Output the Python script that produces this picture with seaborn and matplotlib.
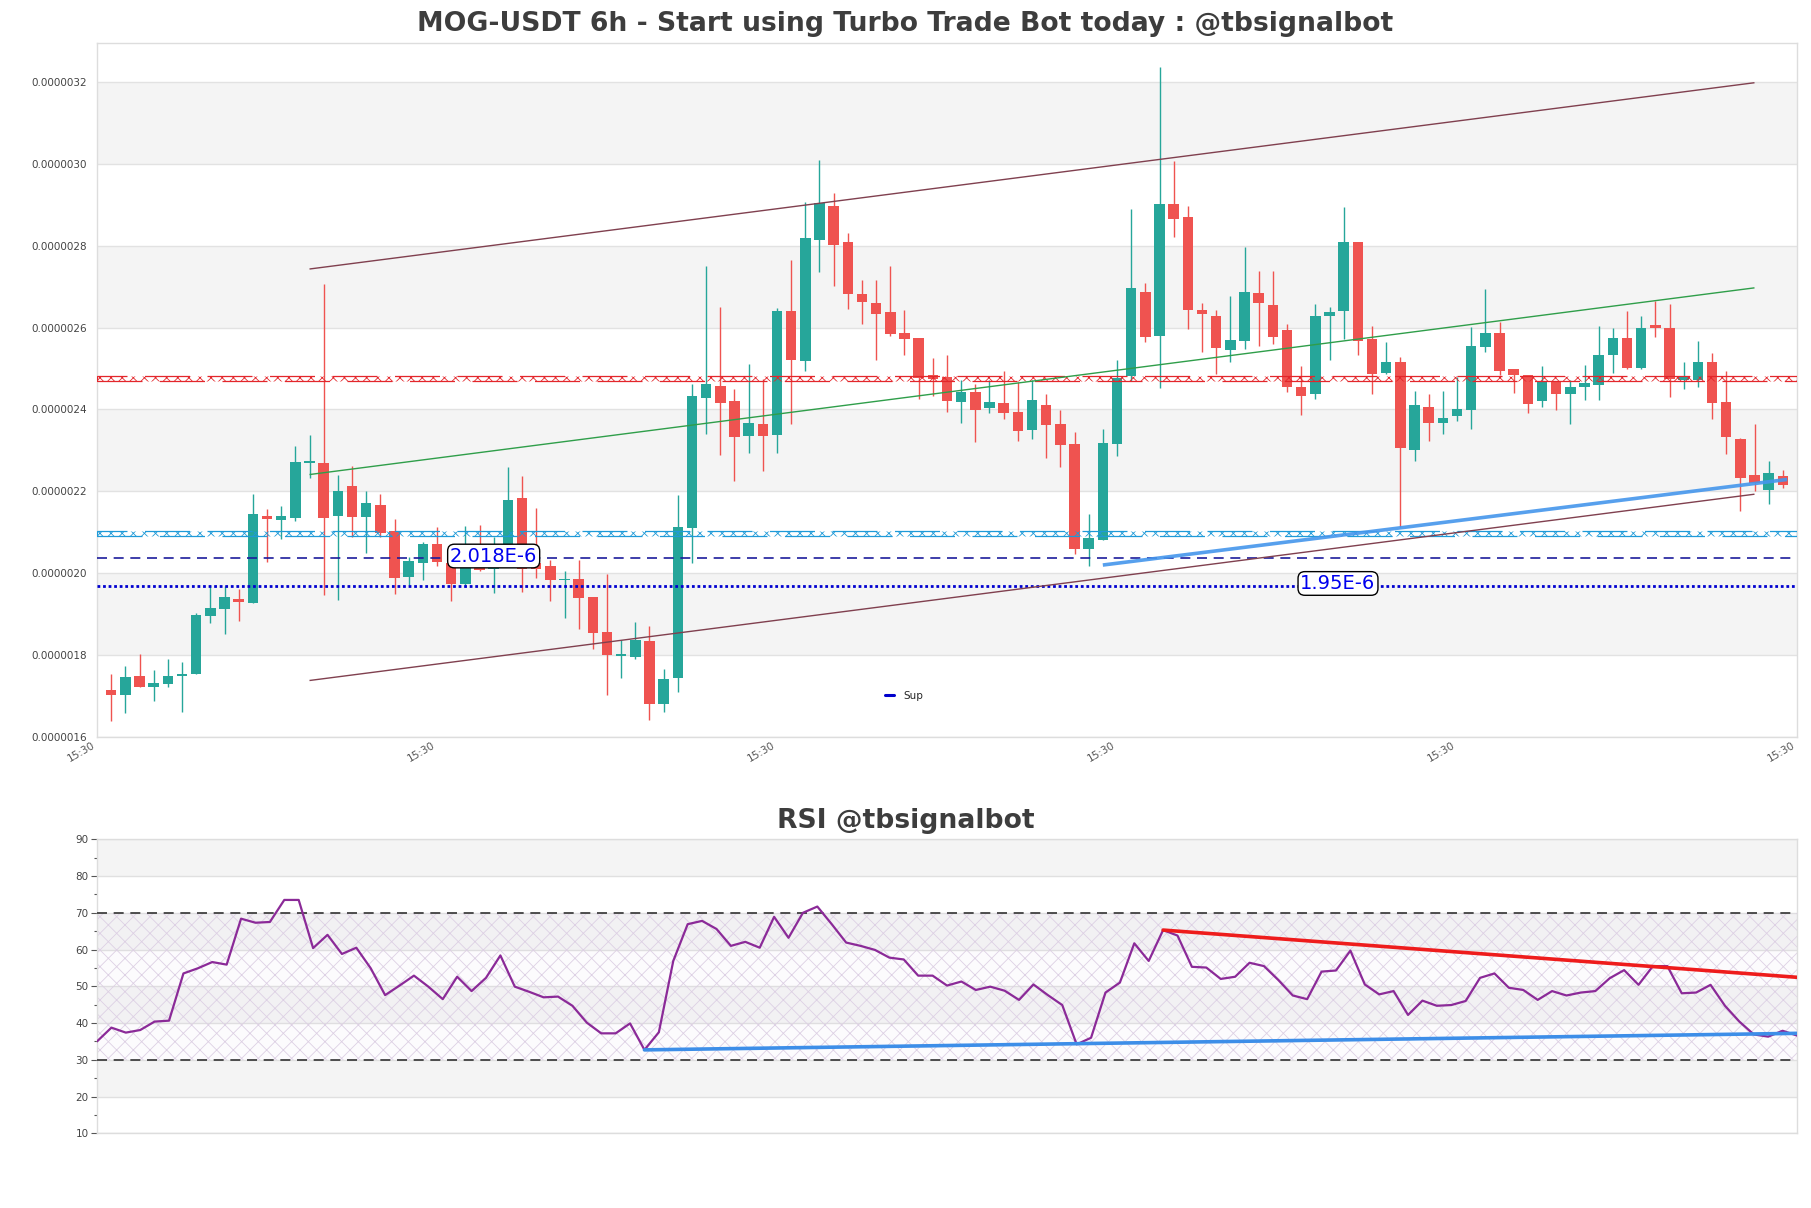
import numpy as np
import pandas as pd
import matplotlib
matplotlib.use("Agg")
import matplotlib.pyplot as plt
import seaborn as sns
from matplotlib.lines import Line2D

# ---------------- data (prices in units of 1e-7 USDT) ----------------
PRICE_UNIT = 1e-7
opens = [17.16, 17.03, 17.50, 17.23, 17.29, 17.50, 17.54, 18.96, 19.12, 19.38,
         19.27, 21.39, 21.30, 21.34, 22.68, 22.68, 21.39, 22.12, 21.37, 21.66,
         21.02, 19.91, 20.25, 20.72, 20.26, 19.74, 20.71, 20.10, 20.68, 21.83,
         20.24, 20.17, 19.83, 19.87, 19.42, 18.57, 17.98, 17.96, 18.35, 16.80,
         17.43, 21.10, 24.28, 24.58, 24.20, 23.36, 23.65, 23.38, 26.41, 25.18,
         28.14, 28.98, 28.10, 26.82, 26.60, 26.37, 25.86, 25.75, 24.85, 24.79,
         24.18, 24.42, 24.03, 24.15, 23.93, 23.49, 24.10, 23.65, 23.16, 20.59,
         20.80, 23.16, 24.81, 26.88, 25.79, 29.02, 28.71, 26.43, 26.29, 25.46,
         25.67, 26.85, 26.56, 25.93, 24.56, 24.38, 26.28, 26.40, 28.10, 25.71,
         24.90, 25.17, 23.02, 24.06, 23.66, 23.84, 23.98, 25.52, 25.86, 24.98,
         24.83, 24.20, 24.67, 24.38, 24.56, 24.60, 25.34, 25.75, 25.02, 26.07,
         25.99, 24.72, 24.71, 25.17, 24.18, 23.29, 22.41, 22.04, 22.37]
highs = [17.54, 17.73, 18.02, 17.63, 17.90, 17.83, 19.04, 19.72, 19.68, 19.62,
         21.93, 21.57, 21.63, 23.10, 23.37, 27.07, 22.41, 22.61, 22.02, 21.94,
         21.32, 20.40, 20.76, 21.13, 20.28, 21.15, 21.17, 20.89, 22.59, 22.37,
         21.60, 20.32, 20.05, 20.32, 19.42, 19.98, 18.37, 18.80, 18.72, 17.65,
         21.90, 24.63, 27.51, 26.50, 24.50, 25.11, 24.75, 26.47, 27.65, 29.07,
         30.10, 29.29, 28.32, 27.15, 27.15, 27.51, 26.43, 25.75, 25.26, 25.32,
         24.71, 24.63, 24.71, 24.95, 24.67, 24.71, 24.38, 23.99, 23.46, 21.44,
         23.53, 25.21, 28.90, 27.09, 32.37, 30.07, 28.98, 26.60, 26.43, 26.78,
         27.96, 27.39, 27.39, 26.09, 25.05, 26.58, 26.50, 28.95, 28.10, 26.05,
         25.64, 25.29, 24.46, 24.38, 24.44, 24.79, 26.01, 26.94, 26.13, 24.99,
         24.85, 25.05, 24.67, 24.71, 25.09, 26.05, 25.98, 26.41, 26.29, 26.66,
         26.58, 25.17, 25.68, 25.37, 24.95, 23.30, 23.65, 22.73, 22.51]
lows = [16.40, 16.59, 17.22, 16.89, 17.21, 16.62, 17.54, 18.79, 18.51, 18.84,
        19.27, 20.27, 20.84, 21.28, 22.32, 19.47, 19.34, 20.88, 20.50, 20.88,
        19.50, 19.71, 19.83, 20.18, 19.32, 19.67, 20.06, 19.52, 20.64, 19.54,
        19.89, 19.32, 18.91, 18.64, 18.14, 17.02, 17.45, 17.90, 16.41, 16.62,
        17.10, 20.26, 23.41, 22.88, 22.26, 22.93, 22.50, 22.94, 23.65, 24.95,
        27.35, 27.01, 26.46, 26.09, 25.20, 25.80, 25.32, 24.26, 24.34, 23.93,
        23.67, 23.20, 23.91, 23.77, 23.24, 23.27, 22.82, 22.59, 20.48, 20.18,
        20.80, 22.86, 24.70, 25.64, 24.53, 28.20, 25.97, 25.40, 24.87, 25.15,
        25.48, 25.56, 25.60, 24.42, 23.87, 24.25, 25.21, 25.72, 25.32, 24.38,
        24.87, 21.13, 22.74, 23.23, 23.41, 23.71, 23.53, 25.40, 24.83, 24.40,
        23.91, 24.05, 23.98, 23.65, 24.22, 24.22, 24.90, 24.99, 24.99, 25.78,
        24.30, 24.50, 24.54, 23.77, 22.92, 21.52, 22.01, 21.70, 22.07]
closes = [17.03, 17.46, 17.23, 17.31, 17.50, 17.55, 18.98, 19.16, 19.41, 19.30,
          21.44, 21.32, 21.39, 22.71, 22.74, 21.35, 22.02, 21.37, 21.71, 20.98,
          19.89, 20.29, 20.71, 20.28, 19.74, 20.72, 20.07, 20.72, 21.80, 20.11,
          20.11, 19.83, 19.87, 19.40, 18.54, 18.00, 18.02, 18.37, 16.80, 17.41,
          21.12, 24.33, 24.61, 24.15, 23.32, 23.66, 23.36, 26.41, 25.20, 28.19,
          29.04, 28.02, 26.82, 26.62, 26.33, 25.85, 25.72, 24.77, 24.75, 24.20,
          24.42, 23.98, 24.18, 23.91, 23.47, 24.22, 23.63, 23.14, 20.59, 20.86,
          23.18, 24.77, 26.96, 25.76, 29.02, 28.65, 26.43, 26.32, 25.50, 25.70,
          26.88, 26.59, 25.76, 24.54, 24.33, 26.29, 26.37, 28.10, 25.67, 24.87,
          25.17, 23.06, 24.12, 23.66, 23.79, 24.00, 25.54, 25.86, 24.93, 24.83,
          24.14, 24.67, 24.37, 24.54, 24.64, 25.34, 25.75, 25.02, 25.99, 25.99,
          24.75, 24.79, 25.15, 24.15, 23.32, 22.32, 22.20, 22.45, 22.16]

rsi_values = [35.0, 38.75, 37.4, 38.1, 40.4, 40.65, 53.5, 54.9, 56.6, 55.9,
              68.4, 67.3, 67.5, 73.5, 73.5, 60.4, 64.0, 58.8, 60.5, 54.9,
              47.6, 50.2, 52.9, 49.9, 46.5, 52.6, 48.7, 52.3, 58.4, 49.9,
              48.5, 47.0, 47.2, 44.7, 40.1, 37.2, 37.2, 39.9, 32.7, 37.5,
              56.9, 66.9, 67.8, 65.6, 61.0, 62.1, 60.5, 68.9, 63.2, 70.0,
              71.7, 66.9, 61.9, 61.0, 59.9, 57.8, 57.3, 52.9, 52.9, 50.2,
              51.3, 49.0, 49.9, 48.8, 46.3, 50.5, 47.6, 44.9, 34.2, 36.0,
              48.3, 51.0, 61.7, 56.9, 65.3, 63.8, 55.3, 55.1, 52.0, 52.6,
              56.4, 55.5, 51.7, 47.5, 46.5, 54.0, 54.3, 59.7, 50.5, 47.8,
              48.7, 42.2, 46.1, 44.7, 44.9, 46.0, 52.3, 53.5, 49.6, 49.0,
              46.3, 48.7, 47.5, 48.3, 48.7, 52.2, 54.4, 50.4, 55.5, 55.5,
              48.1, 48.3, 50.4, 44.7, 40.4, 36.9, 36.3, 37.9, 36.6]

x_tick_labels = ["15:30"] * 6
price_ticks = [16, 18, 20, 22, 24, 26, 28, 30, 32]

# horizontal levels (1e-7 units)
resistance_band = (24.70, 24.82)
support_band = (20.92, 21.03)
dashed_level = 20.36
sup_level = 19.68
dashed_label, dashed_label_pos = "2.018E-6", (27.0, 20.42)
sup_label, sup_label_pos = "1.95E-6", (86.6, 19.75)

# trend lines: (x0, x1), (y0, y1)
channel_upper = ((14, 116), (27.43, 31.98))
channel_lower = ((14, 116), (17.38, 21.93))
channel_mid = ((14, 116), (22.41, 26.97))
price_trend = ((70, 118.3), (20.20, 22.29))
rsi_res_trend = ((74, 118), (65.3, 52.45))
rsi_sup_trend = ((38, 118), (32.7, 37.2))

# ---------------- styling ----------------
sns.set_theme(style="white")
plt.rcParams['font.family'] = ['DejaVu Sans']
plt.rcParams['hatch.linewidth'] = 0.6

W, H = 1811, 1208
fig = plt.figure(figsize=(W / 100, H / 100), dpi=100)
ax = fig.add_axes([97 / W, 1 - 737 / H, 1700 / W, 694 / H])
ax2 = fig.add_axes([97 / W, 1 - 1133.3 / H, 1700 / W, 294 / H])

df = pd.DataFrame({"open": opens, "high": highs, "low": lows, "close": closes}) * PRICE_UNIT
df["idx"] = np.arange(len(df))
GREEN, RED = "#26a69a", "#ef5350"
colors = np.where(df["close"] >= df["open"], GREEN, RED)

# background bands
for lo in (18, 22, 26, 30):
    ax.axhspan(lo * PRICE_UNIT, (lo + 2) * PRICE_UNIT, color="#f4f4f4", zorder=0, lw=0)

# candles
ax.vlines(df["idx"], df["low"], df["high"], colors=colors, lw=1.0, zorder=3)
body_lo = np.minimum(df["open"], df["close"])
body_h = np.abs(df["close"] - df["open"])
ax.bar(df["idx"], body_h, bottom=body_lo, width=0.75, color=colors, zorder=4, lw=0)

# hatched level bands
for (lo, hi), col in ((resistance_band, "#e3262b"), (support_band, "#1e9ad8")):
    ax.axhspan(lo * PRICE_UNIT, hi * PRICE_UNIT, facecolor="none", edgecolor=col,
               hatch="xxx", lw=0.9, ls=(0, (36, 14)), zorder=5)

ax.axhline(dashed_level * PRICE_UNIT, color="#1c1c9c", lw=1.2, ls=(0, (6, 4)), zorder=5)
ax.axhline(sup_level * PRICE_UNIT, color="#0000d0", lw=2.0, ls=(0, (1, 1)), zorder=5)

for (xs, ys), col, lw in ((channel_upper, "#80404f", 1.0), (channel_lower, "#80404f", 1.0),
                          (channel_mid, "#2f9e4a", 1.0), (price_trend, "#4596ec", 2.6)):
    ax.plot(xs, np.array(ys) * PRICE_UNIT, color=col, lw=lw, zorder=6,
            alpha=0.9 if lw > 2 else 1.0, solid_capstyle="butt")

bbox = dict(boxstyle="round,pad=0.12,rounding_size=0.35", fc="white", ec="black", lw=1.0)
for txt, (px, py) in ((dashed_label, dashed_label_pos), (sup_label, sup_label_pos)):
    ax.text(px, py * PRICE_UNIT, txt, color="#0000ee", fontsize=14, ha="center",
            va="center", bbox=bbox, zorder=8)

ax.set_xlim(-1, 119)
ax.set_ylim(16 * PRICE_UNIT, 32.95 * PRICE_UNIT)
ax.set_yticks([t * PRICE_UNIT for t in price_ticks])
ax.set_yticklabels([f"{t * PRICE_UNIT:.7f}" for t in price_ticks], fontsize=7.5, color="#444444")
ax.yaxis.grid(True, color="#e2e2e2", lw=1.0)
ax.set_axisbelow(True)
ax.set_xticks([-1, 23, 47, 71, 95, 119])
ax.set_xticklabels(x_tick_labels, rotation=30, ha="right", fontsize=7.5, color="#555555")
ax.tick_params(axis="y", length=0, pad=7)
ax.tick_params(axis="x", length=0, pad=2)
for sp in ax.spines.values():
    sp.set_color("#dddddd")
    sp.set_linewidth(1.0)

leg = ax.legend(handles=[Line2D([0], [0], color="#0000cc", lw=2.2)], labels=["Sup"],
                loc="center left", bbox_to_anchor=(0.4635, 0.059), frameon=False,
                fontsize=7.5, handlelength=0.9, handletextpad=0.9, borderpad=0,
                borderaxespad=0)

# ---------------- RSI panel ----------------
rsi_df = pd.DataFrame({"t": np.arange(len(rsi_values)), "rsi": rsi_values})
for lo in (20, 40, 60, 80):
    ax2.axhspan(lo, lo + 10, color="#f4f4f4", zorder=0, lw=0)
ax2.fill_between([0, len(rsi_values) - 1], 30, 70, facecolor=(0.85, 0.78, 0.9, 0.06),
                 edgecolor="#ddd0e4", hatch="xx", lw=0, zorder=1)
ax2.axhline(70, color="#333333", lw=1.2, ls=(0, (6, 4)), zorder=3)
ax2.axhline(30, color="#333333", lw=1.2, ls=(0, (6, 4)), zorder=3)
sns.lineplot(data=rsi_df, x="t", y="rsi", ax=ax2, color="#8b2a98", lw=1.6, zorder=5)
ax2.plot(*rsi_res_trend, color="#ee1c1c", lw=2.6, zorder=6)
ax2.plot(*rsi_sup_trend, color="#3d8ee8", lw=2.6, zorder=6)
ax2.set_xlim(0, len(rsi_values) - 1)
ax2.set_ylim(10, 90)
ax2.set_yticks(range(10, 91, 10))
ax2.set_yticks(range(15, 90, 10), minor=True)
ax2.set_yticklabels([str(v) for v in range(10, 91, 10)], fontsize=7.5, color="#444444")
ax2.yaxis.grid(True, color="#e0e0e0", lw=1.0)
ax2.set_axisbelow(True)
ax2.set_xticks([])
ax2.set_xlabel("")
ax2.set_ylabel("")
ax2.tick_params(axis="y", which="major", left=True, length=4, width=0.8, color="#555555", pad=2)
ax2.tick_params(axis="y", which="minor", left=True, length=2.5, width=0.8, color="#555555")
for sp in ax2.spines.values():
    sp.set_color("#dddddd")
    sp.set_linewidth(1.0)

fig.text(0.5, 1 - 24 / H, "MOG-USDT 6h - Start using Turbo Trade Bot today : @tbsignalbot",
         ha="center", va="center", fontsize=19.2, fontweight="bold", color="#3d3d3d")
fig.text(0.5, 1 - 821 / H, "RSI @tbsignalbot", ha="center", va="center",
         fontsize=19.2, fontweight="bold", color="#3d3d3d")

fig.savefig("out.png", dpi=100, facecolor="white")
